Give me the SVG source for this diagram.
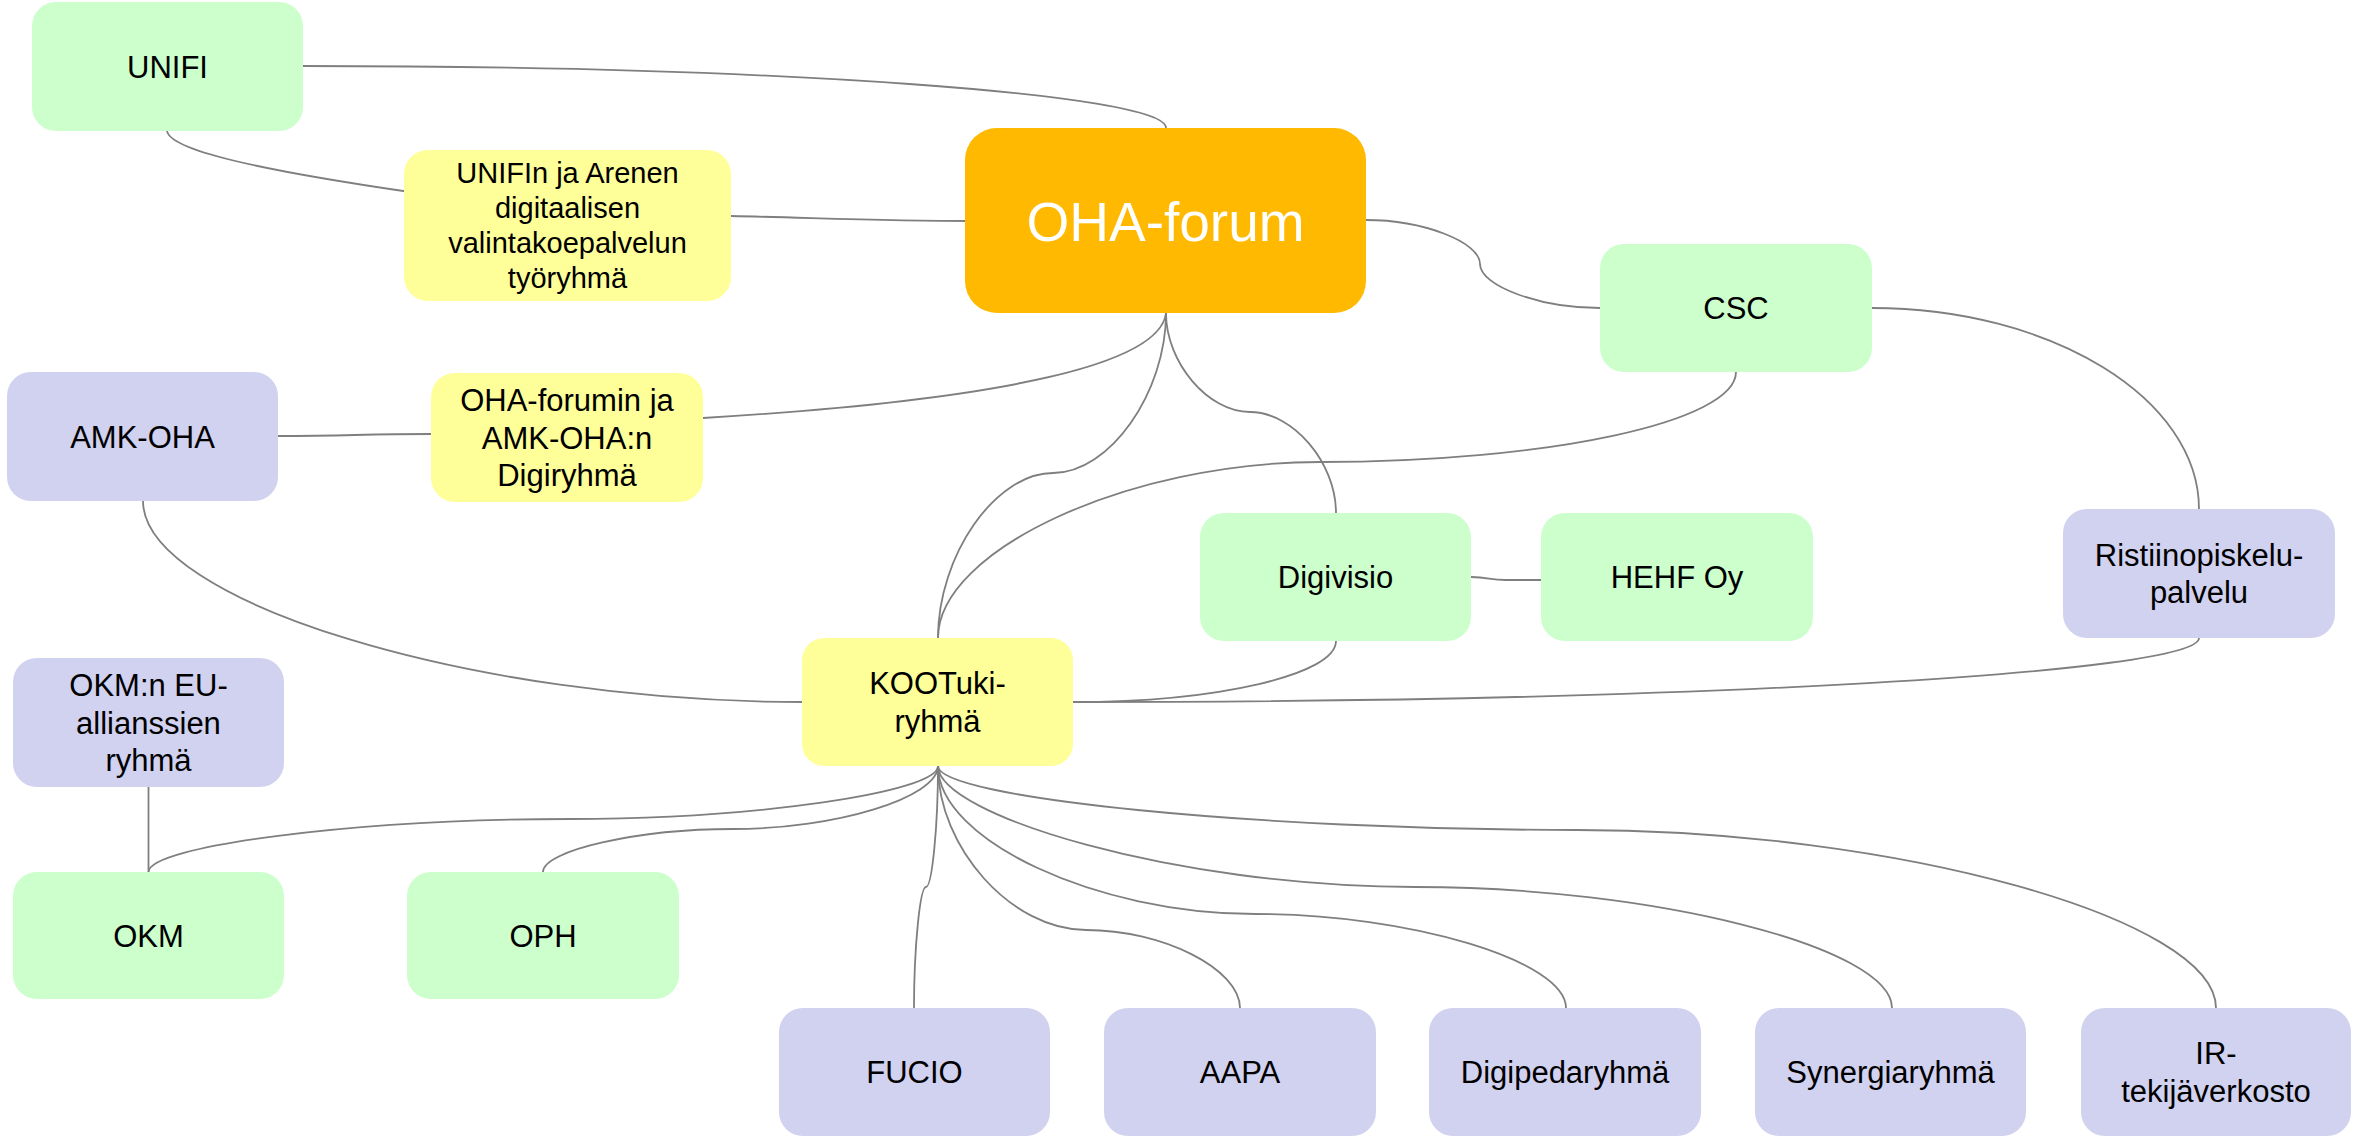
<svg xmlns="http://www.w3.org/2000/svg" width="2356" height="1139" viewBox="0 0 2356 1139">
<style>
.bg{fill:#ffffff}
.c{fill:none;stroke:#7f7f7f;stroke-width:1.8}
.g{fill:#ccffcc}
.y{fill:#ffff99}
.p{fill:#d1d1f0}
.o{fill:#ffb900}
text{font-family:"Liberation Sans",Arial,sans-serif;font-size:31px;fill:#000;text-anchor:middle}
.s29{font-size:29px}
.big{font-size:55px;fill:#ffffff}
</style>
<rect class="bg" x="0" y="0" width="2356" height="1139"/>
<g id="connectors">
<path class="c" d="M303,66 C778,66 1166,94 1166,128"/>
<path class="c" d="M167,130 C167,150 260,170 410,192"/>
<path class="c" d="M731,216 C820,218 890,221 970,221"/>
<path class="c" d="M1366,220 C1423,220 1480,242 1480,264 C1480,286 1540,308 1600,308"/>
<path class="c" d="M1166,313 C1160,365 1000,400 703,418"/>
<path class="c" d="M1166,313 C1166,393 1109.5,473 1053,473 C995.5,473 938,555.5 938,638"/>
<path class="c" d="M1166,313 C1166,362.5 1208,412 1250,412 C1293,412 1336,462.5 1336,513"/>
<path class="c" d="M1736,372 C1736,421.5 1549,462 1320,462 C1129,462 938,550 938,638"/>
<path class="c" d="M1872,308 C2052,308 2199,399 2199,509"/>
<path class="c" d="M1471,577 C1489,577 1489,580 1506,580 L1541,580"/>
<path class="c" d="M1336,641 C1336,674.5 1218,702 1073,702"/>
<path class="c" d="M2199,638 C2199,673 1692,702 1073,702"/>
<path class="c" d="M278,436 C350,436 360,434 431,434"/>
<path class="c" d="M143,501 C143,601.5 472.5,702 802,702"/>
<path class="c" d="M148.5,787 L148.5,872"/>
<path class="c" d="M938,766 C938,792.5 754,819 570,819 C359,819 148.5,845.5 148.5,872"/>
<path class="c" d="M938,766 C938,797.5 835.5,829 733,829 C638,829 543,850.5 543,872"/>
<path class="c" d="M938,766 C938,826.5 932,887 926,887 C920,887 914,947.5 914,1008"/>
<path class="c" d="M938,766 C938,848 1012,930 1086,930 C1163,930 1240,969 1240,1008"/>
<path class="c" d="M938,766 C938,840 1096.5,914 1255,914 C1410.5,914 1566,961 1566,1008"/>
<path class="c" d="M938,766 C938,815 1176.5,887 1415,887 C1653.5,887 1892,947.5 1892,1008"/>
<path class="c" d="M938,766 C938,798 1257.5,830 1577,830 C1896.5,830 2216,919 2216,1008"/>
</g>
<g id="unifi"><rect class="g" x="32" y="2" width="271" height="129" rx="24"/><text x="167.5" y="77.5">UNIFI</text></g>
<g id="unifin-arenen"><rect class="y" x="404" y="150" width="327" height="151" rx="24"/><text class="s29" x="567.5" y="183">UNIFIn ja Arenen</text><text class="s29" x="567.5" y="218">digitaalisen</text><text class="s29" x="567.5" y="253">valintakoepalvelun</text><text class="s29" x="567.5" y="288">työryhmä</text></g>
<g id="oha-forum"><rect class="o" x="965" y="128" width="401" height="185" rx="32"/><text class="big" x="1165.5" y="241">OHA-forum</text></g>
<g id="csc"><rect class="g" x="1600" y="244" width="272" height="128" rx="24"/><text x="1736" y="319">CSC</text></g>
<g id="amk-oha"><rect class="p" x="7" y="372" width="271" height="129" rx="24"/><text x="142.5" y="447.5">AMK-OHA</text></g>
<g id="digiryhma"><rect class="y" x="431" y="373" width="272" height="129" rx="24"/><text x="567" y="411">OHA-forumin ja</text><text x="567" y="448.5">AMK-OHA:n</text><text x="567" y="486">Digiryhmä</text></g>
<g id="digivisio"><rect class="g" x="1200" y="513" width="271" height="128" rx="24"/><text x="1335.5" y="588">Digivisio</text></g>
<g id="hehf"><rect class="g" x="1541" y="513" width="272" height="128" rx="24"/><text x="1677" y="588">HEHF Oy</text></g>
<g id="ristiinopiskelu"><rect class="p" x="2063" y="509" width="272" height="129" rx="24"/><text x="2199" y="565.75">Ristiinopiskelu-</text><text x="2199" y="603.25">palvelu</text></g>
<g id="kootuki"><rect class="y" x="802" y="638" width="271" height="128" rx="22"/><text x="937.5" y="694.25">KOOTuki-</text><text x="937.5" y="731.75">ryhmä</text></g>
<g id="okm-eu"><rect class="p" x="13" y="658" width="271" height="129" rx="24"/><text x="148.5" y="696">OKM:n EU-</text><text x="148.5" y="733.5">allianssien</text><text x="148.5" y="771">ryhmä</text></g>
<g id="okm"><rect class="g" x="13" y="872" width="271" height="127" rx="24"/><text x="148.5" y="946.5">OKM</text></g>
<g id="oph"><rect class="g" x="407" y="872" width="272" height="127" rx="24"/><text x="543" y="946.5">OPH</text></g>
<g id="fucio"><rect class="p" x="779" y="1008" width="271" height="128" rx="24"/><text x="914.5" y="1083">FUCIO</text></g>
<g id="aapa"><rect class="p" x="1104" y="1008" width="272" height="128" rx="24"/><text x="1240" y="1083">AAPA</text></g>
<g id="digipedaryhma"><rect class="p" x="1429" y="1008" width="272" height="128" rx="24"/><text x="1565" y="1083">Digipedaryhmä</text></g>
<g id="synergiaryhma"><rect class="p" x="1755" y="1008" width="271" height="128" rx="24"/><text x="1890.5" y="1083">Synergiaryhmä</text></g>
<g id="ir-tekijaverkosto"><rect class="p" x="2081" y="1008" width="270" height="128" rx="24"/><text x="2216" y="1064.25">IR-</text><text x="2216" y="1101.75">tekijäverkosto</text></g>
</svg>
